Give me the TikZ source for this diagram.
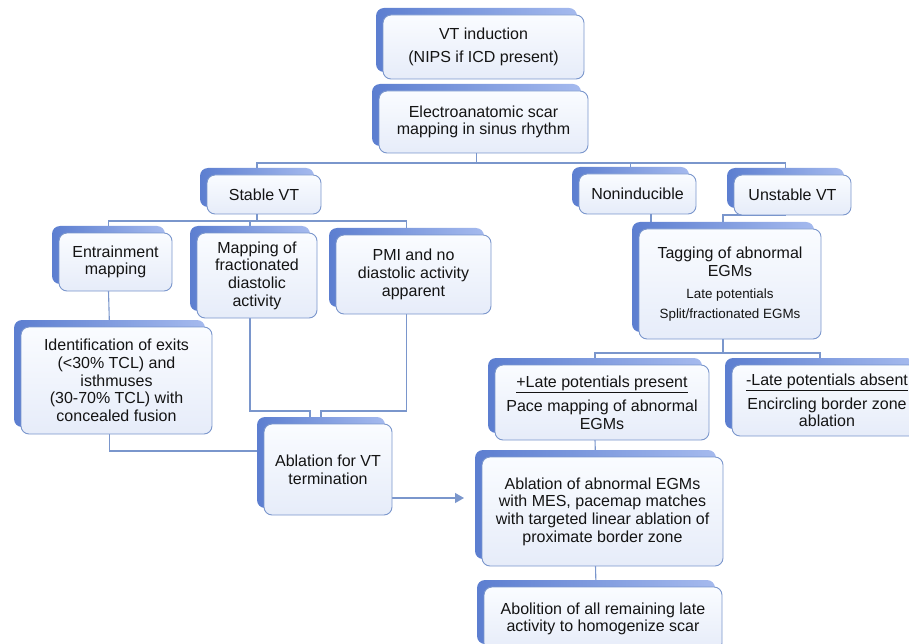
\documentclass[tikz,border=0pt]{standalone}
\usepackage{fontspec}
\setmainfont{Liberation Sans}
\usetikzlibrary{shadows,backgrounds,arrows.meta}
\definecolor{edge}{RGB}{122,150,204}
\definecolor{sdark}{RGB}{92,126,208}
\definecolor{slight}{RGB}{165,186,238}
\definecolor{ftop}{RGB}{250,252,255}
\definecolor{fbot}{RGB}{230,236,249}
\definecolor{txt}{RGB}{20,20,20}
\tikzset{
  box/.style={draw=edge, line width=0.9pt, rounded corners=8pt,
    top color=ftop, bottom color=fbot, text=txt, align=center,
    inner sep=2pt, outer sep=0pt,
    font=\fontsize{16}{17.7}\selectfont,
    general shadow={shadow xshift=-7pt, shadow yshift=7pt,
      left color=sdark, right color=slight, draw=none}},
  conn/.style={draw=edge, line width=1.1pt},
}
\newcommand{\smalltxt}{\fontsize{13.4}{15}\selectfont}
\begin{document}
\begin{tikzpicture}[x=1pt,y=-1pt]
\useasboundingbox (0,0) rectangle (909,644);
\clip (0,0) rectangle (909,644);

\node[box, minimum width=201pt, minimum height=64pt] (A) at (483.5,47)
  {VT induction\\[6pt](NIPS if ICD present)};
\node[box, minimum width=209pt, minimum height=62pt] (B) at (483.5,122)
  {Electroanatomic scar\\mapping in sinus rhythm};
\node[box, minimum width=114pt, minimum height=39pt] (C) at (264,194.5) {Stable VT};
\node[box, minimum width=117pt, minimum height=40pt] (D) at (637.5,194) {Noninducible};
\node[box, minimum width=117pt, minimum height=40pt] (E) at (792.5,195) {Unstable VT};
\node[box, minimum width=113pt, minimum height=58pt] (F) at (115.5,262)
  {Entrainment\\mapping};
\node[box, minimum width=120pt, minimum height=85pt] (G) at (257,275.5)
  {Mapping of\\fractionated\\diastolic\\activity};
\node[box, minimum width=155pt, minimum height=79pt] (H) at (413.5,274.5)
  {PMI and no\\diastolic activity\\apparent};
\node[box, minimum width=182pt, minimum height=110pt] (I) at (730,284)
  {Tagging of abnormal\\EGMs\\[5pt]{\smalltxt Late potentials}\\[2pt]{\smalltxt Split/fractionated EGMs}};
\node[box, minimum width=191pt, minimum height=107pt] (J) at (116.5,380.5)
  {Identification of exits\\(<30\% TCL) and\\isthmuses\\(30-70\% TCL) with\\concealed fusion};
\node[box, minimum width=128pt, minimum height=91pt] (K) at (328,469.5)
  {Ablation for VT\\termination};
\node[box, minimum width=214pt, minimum height=75pt] (L) at (602,402.5)
  {\underline{+Late potentials present}\\[7pt]Pace mapping of abnormal\\EGMs};
\node[box, minimum width=190pt, minimum height=71pt] (M) at (827,400.5)
  {\underline{-Late potentials absent}\\[6pt]Encircling border zone\\ablation};
\node[box, minimum width=241pt, minimum height=109pt] (N) at (602.5,511.5)
  {Ablation of abnormal EGMs\\with MES, pacemap matches\\with targeted linear ablation of\\proximate border zone};
\node[box, minimum width=238pt, minimum height=64pt] (O) at (603,619)
  {Abolition of all remaining late\\activity to homogenize scar};

\begin{scope}[on background layer]
  % top level
  \draw[conn] ([xshift=-7pt]B.south) -- ++(0,10) coordinate (bar1);
  \draw[conn] ([xshift=-7pt]C.north) |- (bar1) -| ([xshift=-7pt]E.north);
  \coordinate (dn) at ([xshift=-7pt]D.north);
  \draw[conn] (dn) -- (dn |- bar1);
  % stable VT
  \draw[conn] ([xshift=-7pt]C.south) -- ++(0,7) coordinate (bar2);
  \draw[conn] ([xshift=-7pt]F.north) |- (bar2) -| ([xshift=-7pt]H.north);
  \coordinate (gn) at ([xshift=-7pt]G.north);
  \draw[conn] (gn) -- (gn |- bar2);
  \draw[conn] ([xshift=-7pt]F.south) -- ([xshift=-7pt]J.north);
  \draw[conn] ([xshift=-7pt]J.south) |- ([yshift=18.5pt]K.west);
  \draw[conn] ([xshift=-7pt]G.south) |- ([xshift=-18pt,yshift=13pt]K.north) -- ([xshift=-18pt]K.north);
  \draw[conn] ([xshift=-7pt]H.south) |- ([xshift=-7pt,yshift=13pt]K.north) -- ([xshift=-7pt]K.north);
  \draw[conn,-{Triangle[length=9pt,width=10pt]}] ([yshift=-28.5pt]K.east) -- ([xshift=-18pt,yshift=13.5pt]N.west);
  % right side
  \coordinate (ds) at ([xshift=13.5pt]D.south);
  \draw[conn] (ds) -- (ds |- I.north);
  \draw[conn] ([xshift=-7pt]E.south) -| ([xshift=-7pt]I.north);
  \draw[conn] ([xshift=-7pt]I.south) -- ++(0,14) coordinate (bar3);
  \draw[conn] ([xshift=-7pt]L.north) |- (bar3) -| ([xshift=-7pt]M.north);
  \draw[conn] ([xshift=-7pt]L.south) -- ([xshift=-7pt]N.north);
  \draw[conn] ([xshift=-7pt]N.south) -- ([xshift=-7pt]O.north);
\end{scope}
\end{tikzpicture}
\end{document}
